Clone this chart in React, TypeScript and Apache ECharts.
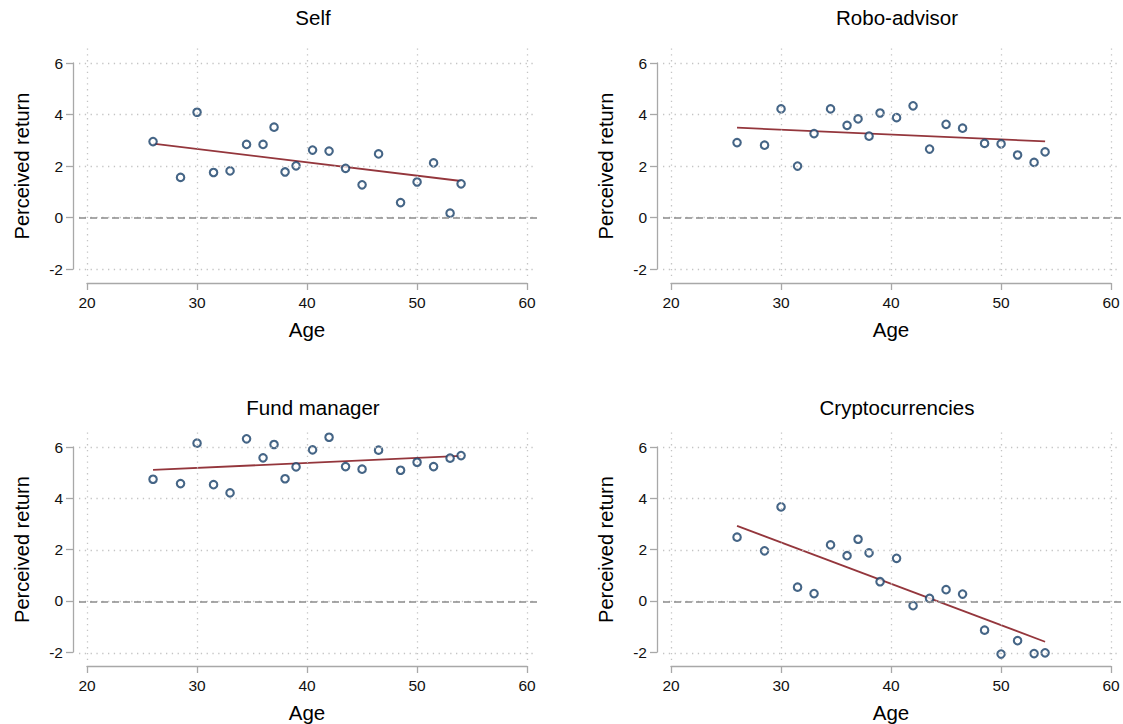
import React, { useEffect, useRef } from "react";
import * as echarts from "echarts";

// Binned age (x) values shared by all panels
const ageBins = [26, 28.5, 30, 31.5, 33, 34.5, 36, 37, 38, 39, 40.5, 42, 43.5, 45, 46.5, 48.5, 50, 51.5, 53, 54];

// Binned perceived return values
const selfValues = [2.95, 1.56, 4.09, 1.75, 1.81, 2.84, 2.84, 3.51, 1.77, 2.01, 2.62, 2.58, 1.91, 1.27, 2.47, 0.58, 1.38, 2.12, 0.17, 1.31];
const roboValues = [2.91, 2.81, 4.22, 2.0, 3.26, 4.22, 3.58, 3.83, 3.16, 4.06, 3.88, 4.34, 2.66, 3.62, 3.47, 2.88, 2.86, 2.43, 2.14, 2.55];
const fundValues = [4.75, 4.58, 6.15, 4.54, 4.22, 6.32, 5.58, 6.1, 4.77, 5.23, 5.89, 6.38, 5.24, 5.14, 5.88, 5.1, 5.41, 5.24, 5.57, 5.67];
const cryptoValues = [2.5, 1.97, 3.68, 0.56, 0.31, 2.2, 1.78, 2.42, 1.89, 0.77, 1.68, -0.16, 0.12, 0.46, 0.29, -1.11, -2.04, -1.52, -2.02, -1.99];

// Linear fit endpoints
const fitAges = [26, 54];
const selfFit = [2.87, 1.42];
const roboFit = [3.49, 2.96];
const fundFit = [5.11, 5.66];
const cryptoFit = [2.94, -1.56];

const panelTitles = ["Self", "Robo-advisor", "Fund manager", "Cryptocurrencies"];
const xTicks = [20, 30, 40, 50, 60];
const yTicks = [-2, 0, 2, 4, 6];

const panelValues = [selfValues, roboValues, fundValues, cryptoValues];
const panelFits = [selfFit, roboFit, fundFit, cryptoFit];

const FONT = "'Liberation Sans', Arial, Helvetica, sans-serif";

export default function App() {
  const ref = useRef<HTMLDivElement>(null);

  useEffect(() => {
    if (!ref.current) return;
    const chart = echarts.init(ref.current, undefined, { renderer: "svg" });

    const offsets = [
      { dx: 0, dy: 0, ty: 2 },
      { dx: 584, dy: 0, ty: 2 },
      { dx: 0, dy: 384, ty: 392 },
      { dx: 584, dy: 384, ty: 392 },
    ];

    const grids: any[] = [];
    const xAxes: any[] = [];
    const yAxes: any[] = [];
    const series: any[] = [];
    const titles: any[] = [];

    const axisColor = "#a8a8a8";

    offsets.forEach((o, i) => {
      // plot region grid
      grids.push({ left: 79 + o.dx, top: 44 + o.dy, width: 458, height: 232 });
      // axis display grid
      grids.push({ left: 87 + o.dx, top: 63 + o.dy, width: 440, height: 206 });

      xAxes.push({ gridIndex: 2 * i, type: "value", min: 19.27, max: 60.9, show: false });
      yAxes.push({ gridIndex: 2 * i, type: "value", min: -2.27, max: 6.74, show: false });

      xAxes.push({
        gridIndex: 2 * i + 1,
        type: "value",
        min: 20,
        max: 60,
        interval: 10,
        offset: 14,
        axisLine: { show: true, onZero: false, lineStyle: { color: axisColor, width: 1.3 } },
        axisTick: { show: true, length: 7, lineStyle: { color: axisColor, width: 1.3 } },
        axisLabel: { fontSize: 15.5, color: "#111", margin: 11, fontFamily: FONT },
        splitLine: { show: false },
        name: "Age",
        nameLocation: "middle",
        nameGap: 36,
        nameTextStyle: { fontSize: 20.5, color: "#000", fontFamily: FONT },
      });
      yAxes.push({
        gridIndex: 2 * i + 1,
        type: "value",
        min: -2,
        max: 6,
        interval: 2,
        offset: 14,
        axisLine: { show: true, onZero: false, lineStyle: { color: axisColor, width: 1.3 } },
        axisTick: { show: true, length: 7, lineStyle: { color: axisColor, width: 1.3 } },
        axisLabel: { fontSize: 15.5, color: "#111", margin: 10, fontFamily: FONT },
        splitLine: { show: false },
        name: "Perceived return",
        nameLocation: "middle",
        nameGap: 41,
        nameTextStyle: { fontSize: 20, color: "#000", fontFamily: FONT },
      });

      titles.push({
        text: panelTitles[i],
        left: 308 + o.dx,
        top: o.ty,
        textAlign: "center",
        textStyle: { fontSize: 20.5, fontWeight: "normal", color: "#000", fontFamily: FONT },
      });

      const gridLines: any[] = [];
      xTicks.forEach((v) => gridLines.push({ xAxis: v }));
      yTicks.forEach((v) => gridLines.push({ yAxis: v }));
      gridLines.push({ yAxis: 0, lineStyle: { type: [7, 4], color: "#8c8c8c", width: 1.6 } });

      const fit = panelFits[i];
      series.push({
        type: "line",
        xAxisIndex: 2 * i,
        yAxisIndex: 2 * i,
        data: fitAges.map((a, k) => [a, fit[k]]),
        symbol: "none",
        lineStyle: { color: "#94363c", width: 1.8 },
        z: 2,
        silent: true,
        markLine: {
          silent: true,
          symbol: ["none", "none"],
          label: { show: false },
          emphasis: { disabled: true },
          lineStyle: { type: [1.3, 4.5], color: "#c4c4c4", width: 1.3 },
          data: gridLines,
        },
      });
      series.push({
        type: "scatter",
        xAxisIndex: 2 * i,
        yAxisIndex: 2 * i,
        data: ageBins.map((a, k) => [a, panelValues[i][k]]),
        symbol: "circle",
        symbolSize: 7.5,
        clip: false,
        itemStyle: { color: "#ffffff", borderColor: "#163f68", borderWidth: 2.1 },
        z: 3,
        silent: true,
      });
    });

    chart.setOption({
      animation: false,
      backgroundColor: "#ffffff",
      title: titles,
      grid: grids,
      xAxis: xAxes,
      yAxis: yAxes,
      series,
    });

    return () => chart.dispose();
  }, []);

  return (
    <div
      ref={ref}
      style={{ position: "fixed", left: 0, top: 0, width: 1123, height: 724, background: "#fff" }}
    />
  );
}
